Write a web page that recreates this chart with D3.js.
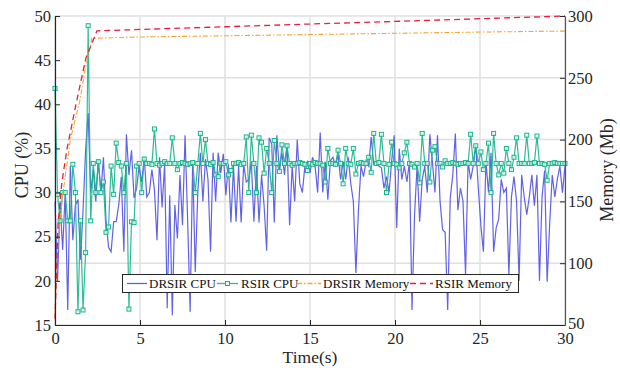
<!DOCTYPE html>
<html><head><meta charset="utf-8">
<script src="https://cdn.jsdelivr.net/npm/d3@7"></script>
<style>
html,body{margin:0;padding:0;background:#fff;}
svg{display:block;font-family:"Liberation Serif","Times New Roman",serif;}
</style></head>
<body>
<svg id="chart" width="620" height="368"></svg>
<script>
// ---- data ----
const sampleStep = 0.15; // seconds between CPU samples
const drsirCpu = [
29,20,29,23.5,30,16.7,33,24.6,28.6,29.2,22.4,28,34.8,39,30,32.6,29,33.7,
30,34,26.9,23.8,23.3,26.7,26.7,28.6,31.8,23.3,36.6,32,34.8,29.4,30.5,33,31.2,34,29.5,30,32.6,30.3,24.6,34,
28.3,33.3,16.9,29.7,16.1,28.6,24.8,32,26.3,36.5,27,16.5,33.5,21,30,34.5,29,33.8,31.5,23.3,34.5,29,34.5,32.2,
34.4,29.7,33.2,26.6,33,26.7,33,26.6,33.2,31.2,31.5,33.5,26.7,33,26.6,32,28.5,23.4,36.2,35.5,26.6,36.5,32.5,34.5,
32,35.5,26.3,33,29,36,31,30,33,33.5,32.2,34,33,30,36.8,30,33.5,29.2,33.6,34,33,34.3,31.5,33.5,
31.5,34,31,29,20.9,28,33,31.8,33.6,33,36.3,33.2,33.5,33,32.8,30.5,31.8,30,33.5,36.5,26,35,31.5,33,
31.2,33.5,16.7,27.5,33,26.7,31.5,33,30,36.6,33.5,30,36.5,29,25.8,25.5,16.7,29.4,32,36.7,28,30.5,29,20.7,
33.5,31.5,33,35.4,30.5,26.3,23.3,33.5,30,34.5,23.3,26,27,31.5,30,30.5,20.7,29.5,31.8,29,20,32,29.5,27.5,
29.5,32,28.5,32,20,29.5,32.5,19.9,26.5,32,29.5,31.5,33,30,33
];
const rsirCpu = [
41.8,29.8,26.8,30,30,26.8,26.8,33.2,30,16.5,26.8,16.7,23.2,48.9,26.8,33.3,30,33.5,
30,31.2,25.5,26.1,33,29.8,35.6,33.4,33,30,33.3,16.8,26.7,26.6,33,33.3,30,33.8,33.3,33.3,33.2,37.2,33.3,33.1,
33.3,33.5,33.3,33.3,36.2,33.3,32.6,33.3,33.4,33.3,33.2,33.3,33.4,30,33.3,36.7,33.3,36,33.3,33.2,33.4,32,31.8,33.3,
33.3,33.5,32,32.5,33.3,33.3,33.4,33.2,33.3,36.3,30,36.5,33.3,30,36.2,35.7,32.2,35,33.3,30,35.9,33.3,32.4,35.4,
33.3,35.3,33.3,33.1,33.3,33.3,33.4,33.3,33.2,32.5,33.3,33.2,33.4,33.3,33.3,33.1,31.2,35,33.3,33.3,33.2,34.8,33.3,31,
35,33.3,33.2,35,32.1,33.3,33.4,33.3,33.3,34,32.3,36.7,33.3,33.4,36.6,33.3,30,33.2,35.7,33.3,33.2,32.8,33.3,34.5,
35.7,33.3,33.2,32.9,33.3,31.1,36.7,33.3,33.3,31.2,34.8,35.2,33.3,33.3,32.9,33.6,33.3,33.3,33.4,33.3,33.2,33.3,33.3,33.4,
33.3,36.6,33.3,35.3,33.3,34.6,32.6,33.3,35.6,30,36.7,33.3,32,33.3,32.2,35,33.3,32.6,34,36.2,33.3,33.3,33.3,36.5,
33.3,33.3,33.4,36.4,33.3,33.3,33.2,31.4,33.3,33.3,33.4,33.3,33.3,33.3,33.3
];
const drsirMemTime = [0, 0.2, 0.5, 0.9, 1.47, 1.76, 2.18, 5, 10, 15, 20, 25, 30];
const drsirMem     = [60, 125, 160, 200, 232, 256, 282, 283, 284, 285, 286, 287, 287.8];
const rsirMemTime  = [0, 0.18, 0.4, 0.7, 1.24, 1.82, 2.47, 5, 10, 15, 20, 25, 30];
const rsirMem      = [55, 132, 165, 192, 229, 266, 288, 289.1, 291.3, 293.5, 295.6, 297.8, 300];
const xTicks = [0, 5, 10, 15, 20, 25, 30];
const cpuTicks = [15, 20, 25, 30, 35, 40, 45, 50];
const memTicks = [50, 100, 150, 200, 250, 300];
const seriesNames = ["DRSIR CPU", "RSIR CPU", "DRSIR Memory", "RSIR Memory"];

// ---- layout ----
const L = 55, R = 565, T = 16, B = 325;
const svg = d3.select("#chart");
const x = d3.scaleLinear().domain([0, 30]).range([L, R]);
const yL = d3.scaleLinear().domain([15, 50]).range([B, T]);
const yR = d3.scaleLinear().domain([50, 300]).range([B, T]);
const C = {blue: "#4646e2", green: "#19b48c", orange: "#f5a531", red: "#e8203f", axis: "#262626", grid: "#e0e0e0"};

// grid
const g = svg.append("g");
g.selectAll(".vg").data(xTicks).join("line")
  .attr("x1", d => x(d)).attr("x2", d => x(d)).attr("y1", T).attr("y2", B)
  .attr("stroke", C.grid).attr("stroke-width", 1.5);
g.selectAll(".hg").data(memTicks).join("line")
  .attr("x1", L).attr("x2", R).attr("y1", d => yR(d)).attr("y2", d => yR(d))
  .attr("stroke", C.grid).attr("stroke-width", 1.5);

const cpuPts = arr => arr.map((v, i) => [i * sampleStep, v]);
const lineL = d3.line().x(d => x(d[0])).y(d => yL(d[1]));
const lineR = d3.line().x(d => x(d[0])).y(d => yR(d[1]));

// DRSIR CPU
svg.append("path").datum(cpuPts(drsirCpu)).attr("d", lineL)
  .attr("fill", "none").attr("stroke", C.blue).attr("stroke-width", 1.2).attr("stroke-opacity", 0.85);
// RSIR CPU
const gp = cpuPts(rsirCpu);
svg.append("path").datum(gp).attr("d", lineL)
  .attr("fill", "none").attr("stroke", C.green).attr("stroke-width", 1.2).attr("stroke-opacity", 0.9);
svg.append("g").selectAll("rect").data(gp).join("rect")
  .attr("x", d => x(d[0]) - 2).attr("y", d => yL(d[1]) - 2).attr("width", 4).attr("height", 4)
  .attr("fill", "#eafaf4").attr("fill-opacity", 0.7).attr("stroke", C.green).attr("stroke-width", 1);
// memory
svg.append("path").datum(drsirMemTime.map((t, i) => [t, drsirMem[i]])).attr("d", lineR)
  .attr("fill", "none").attr("stroke", C.orange).attr("stroke-width", 1.1).attr("stroke-dasharray", "5,2,1.5,2");
svg.append("path").datum(rsirMemTime.map((t, i) => [t, rsirMem[i]])).attr("d", lineR)
  .attr("fill", "none").attr("stroke", C.red).attr("stroke-width", 1.3).attr("stroke-dasharray", "6,4");

// axes
const fs = "16.5px";
const ax = svg.append("g").attr("transform", `translate(0,${B})`)
  .call(d3.axisBottom(x).tickValues(xTicks).tickSizeInner(-5).tickSizeOuter(0).tickPadding(7));
const al = svg.append("g").attr("transform", `translate(${L},0)`)
  .call(d3.axisLeft(yL).tickValues(cpuTicks).tickSizeInner(-5).tickSizeOuter(0).tickPadding(4));
const ar = svg.append("g").attr("transform", `translate(${R},0)`)
  .call(d3.axisRight(yR).tickValues(memTicks).tickSizeInner(-5).tickSizeOuter(0).tickPadding(3));
[ax, al, ar].forEach(a => {
  a.attr("font-family", null).attr("font-size", null);
  a.selectAll("text").style("font-size", fs).attr("fill", C.axis);
  a.selectAll("line").attr("stroke", C.axis);
  a.select(".domain").attr("stroke", C.axis).attr("stroke-width", 1.2);
});
ar.select(".domain").attr("stroke", "#555");
ar.selectAll(".tick text").filter(d => d === 50).attr("dy", "0.2em");

// axis labels
svg.append("text").attr("x", 310).attr("y", 363).attr("text-anchor", "middle")
  .style("font-size", "17.5px").attr("fill", C.axis).text("Time(s)");
svg.append("text").attr("transform", "translate(28,165) rotate(-90)").attr("text-anchor", "middle")
  .style("font-size", "18px").attr("fill", C.axis).text("CPU (%)");
svg.append("text").attr("transform", "translate(613,170) rotate(-90)").attr("text-anchor", "middle")
  .style("font-size", "18px").attr("fill", C.axis).text("Memory (Mb)");

// legend
const lg = svg.append("g");
lg.append("rect").attr("x", 122.5).attr("y", 274.5).attr("width", 396).attr("height", 18)
  .attr("fill", "#fff").attr("stroke", C.axis).attr("stroke-width", 1);
const items = [
  {x0: 127, x1: 147, tx: 149, color: C.blue, dash: null, marker: false, op: 0.85},
  {x0: 217, x1: 238, tx: 241, color: C.green, dash: null, marker: true, op: 0.9},
  {x0: 297, x1: 321, tx: 323, color: C.orange, dash: "5,2,1.5,2", marker: false, op: 1},
  {x0: 410, x1: 433, tx: 435, color: C.red, dash: "6,4", marker: false, op: 1}
];
items.forEach((it, i) => {
  lg.append("line").attr("x1", it.x0).attr("x2", it.x1).attr("y1", 283.5).attr("y2", 283.5)
    .attr("stroke", it.color).attr("stroke-width", 1.3).attr("stroke-opacity", it.op)
    .attr("stroke-dasharray", it.dash);
  if (it.marker) lg.append("rect").attr("x", (it.x0 + it.x1) / 2 - 2).attr("y", 281.5).attr("width", 4).attr("height", 4)
    .attr("fill", "#eafaf4").attr("stroke", it.color).attr("stroke-width", 1);
  lg.append("text").attr("x", it.tx).attr("y", 288).style("font-size", "13px").attr("fill", "#111").text(seriesNames[i]);
});
</script>
</body></html>
